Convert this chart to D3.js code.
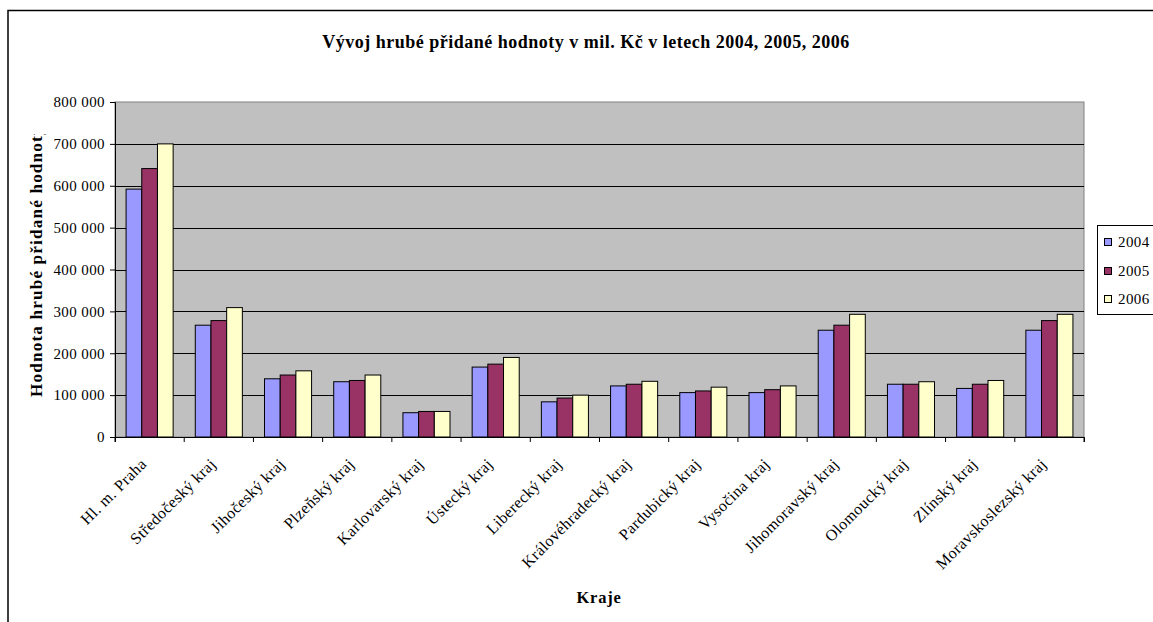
<!DOCTYPE html>
<html><head><meta charset="utf-8">
<script src="https://cdn.jsdelivr.net/npm/d3@7"></script>
<style>
html,body{margin:0;padding:0;background:#fff;overflow:hidden}
svg text{font-family:"Liberation Serif","Times New Roman","DejaVu Serif",serif;fill:#000}
</style></head>
<body>
<svg id="c" width="1153" height="622"></svg>
<script>
const categories = ["Hl. m. Praha","Středočeský kraj","Jihočeský kraj","Plzeňský kraj","Karlovarský kraj","Ústecký kraj","Liberecký kraj","Královéhradecký kraj","Pardubický kraj","Vysočina kraj","Jihomoravský kraj","Olomoucký kraj","Zlínský kraj","Moravskoslezský kraj"];
const seriesNames = ["2004","2005","2006"];
const values2004 = [592000,267000,139000,132000,58000,167000,84000,122000,106000,106000,255000,126000,116000,255000];
const values2005 = [641000,278000,148000,135000,61000,174000,93000,126000,110000,113000,267000,126000,126000,278000];
const values2006 = [700000,309000,158000,148000,61000,190000,100000,133000,119000,122000,293000,132000,135000,293000];
const yTicks = [0,100000,200000,300000,400000,500000,600000,700000,800000];
const colors = ["#9999ff","#993366","#ffffcc"];
const title = "Vývoj hrubé přidané hodnoty v mil. Kč v letech 2004, 2005, 2006";
const yTitle = "Hodnota hrubé přidané hodnoty";
const xTitle = "Kraje";

const series = [values2004, values2005, values2006];
const svg = d3.select("#c");

// outer chart border
svg.append("rect").attr("x",8).attr("y",10.5).attr("width",1200).attr("height",700)
  .attr("fill","#fff").attr("stroke","#000").attr("stroke-width",1.5);

const L=115, R=1084, T=102, B=437;
const x0 = d3.scaleBand().domain(categories).range([L,R]).padding(0);
const step = x0.step();
const x1 = d3.scaleBand().domain(seriesNames).range([step*0.16, step*0.84]).padding(0);
const y = d3.scaleLinear().domain([0,800000]).range([B,T]);

// plot area
svg.append("rect").attr("x",L).attr("y",T).attr("width",R-L).attr("height",B-T)
  .attr("fill","#c0c0c0").attr("stroke","#808080").attr("stroke-width",1);

// gridlines
svg.append("g").selectAll("line").data(yTicks.filter(d=>d>0 && d<800000)).join("line")
  .attr("x1",L).attr("x2",R).attr("y1",d=>Math.round(y(d))+0.5).attr("y2",d=>Math.round(y(d))+0.5)
  .attr("stroke","#000").attr("stroke-width",1);

// bars
const g = svg.append("g");
series.forEach((vals,si)=>{
  g.selectAll(null).data(vals).join("rect")
    .attr("x",(d,i)=>x0(categories[i])+x1(seriesNames[si]))
    .attr("y",d=>y(d))
    .attr("width",x1.bandwidth())
    .attr("height",d=>B-y(d))
    .attr("fill",colors[si]).attr("stroke","#000").attr("stroke-width",1);
});

// y axis
const yAxis = d3.axisLeft(y).tickValues(yTicks).tickSize(5).tickPadding(5)
  .tickFormat(d=>d3.format(",")(d).replace(/,/g," "));
const ya = svg.append("g").attr("transform",`translate(${L},0)`).call(yAxis);
ya.attr("font-family",null).attr("font-size",null);
ya.select(".domain").attr("stroke","#000");
ya.selectAll("line").attr("stroke","#000");
ya.selectAll("text").attr("font-size",15).attr("letter-spacing",0.4).attr("fill","#000");

// x axis
const xAxis = d3.axisBottom(x0).tickSize(5).tickFormat("");
const xa = svg.append("g").attr("transform",`translate(0,${B})`).call(xAxis);
xa.select(".domain").attr("stroke","#000");
xa.selectAll(".tick").remove();
xa.selectAll(null).data(d3.range(categories.length+1)).join("line")
  .attr("x1",i=>L+i*step).attr("x2",i=>L+i*step).attr("y1",0).attr("y2",5).attr("stroke","#000");
svg.append("g").selectAll("text").data(categories).join("text")
  .attr("transform",d=>`translate(${x0(d)+step/2-2},${B+28}) rotate(-45)`)
  .attr("text-anchor","end").attr("font-size",16).attr("letter-spacing",0.4).text(d=>d);

// titles
svg.append("text").attr("x",586).attr("y",48).attr("text-anchor","middle")
  .attr("font-size",18).attr("letter-spacing",0.5).attr("font-weight","bold").text(title);
svg.append("text").attr("x",599).attr("y",603).attr("text-anchor","middle")
  .attr("font-size",16.5).attr("letter-spacing",0.8).attr("font-weight","bold").text(xTitle);

const clip = svg.append("defs").append("clipPath").attr("id","yclip");
clip.append("rect").attr("x",0).attr("y",134).attr("width",80).attr("height",400);
svg.append("g").attr("clip-path","url(#yclip)").append("text")
  .attr("transform",`translate(42,397) rotate(-90)`).attr("text-anchor","start")
  .attr("font-size",17.2).attr("letter-spacing",1.15).attr("font-weight","bold").text(yTitle);

// legend
const lg = svg.append("g");
lg.append("rect").attr("x",1097.5).attr("y",225.5).attr("width",100).attr("height",89)
  .attr("fill","#fff").attr("stroke","#000");
const ly = [242,271,299];
seriesNames.forEach((s,i)=>{
  lg.append("rect").attr("x",1104.5).attr("y",ly[i]-3.5).attr("width",7).attr("height",7)
    .attr("fill",colors[i]).attr("stroke","#000");
  lg.append("text").attr("x",1118).attr("y",ly[i]+5).attr("font-size",15).attr("letter-spacing",0.4).text(s);
});
</script>
</body></html>
